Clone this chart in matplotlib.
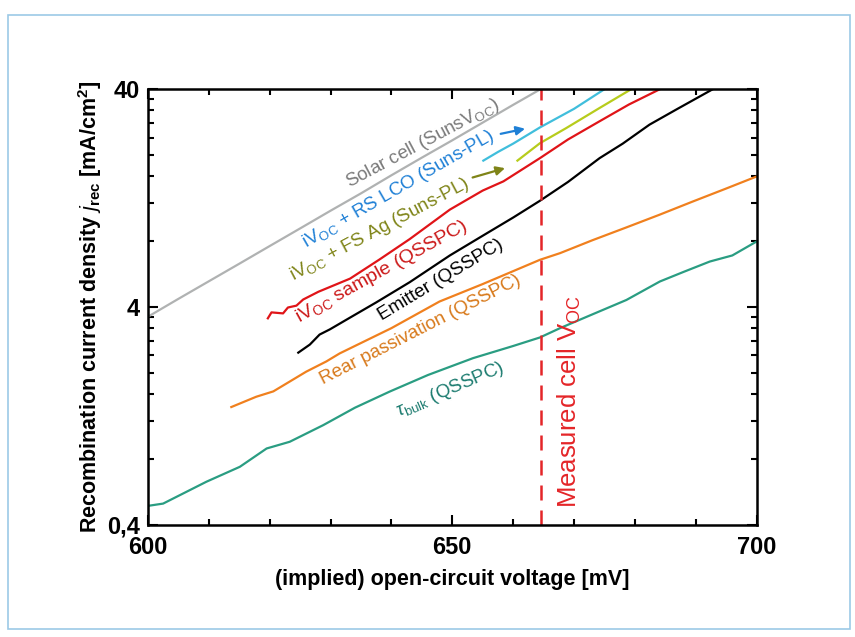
import matplotlib
matplotlib.use("Agg")
import matplotlib.pyplot as plt
from matplotlib.patches import Rectangle
from matplotlib.ticker import FixedLocator, NullFormatter

plt.rcParams['font.family'] = ['Liberation Sans', 'DejaVu Sans']
plt.rcParams['mathtext.fontset'] = 'custom'
plt.rcParams['mathtext.rm'] = 'Liberation Sans'
plt.rcParams['mathtext.it'] = 'Liberation Sans:italic'
plt.rcParams['mathtext.bf'] = 'Liberation Sans:bold'

# data (voltage in mV, current density in mA/cm2)
v_cell = [600, 605, 610, 615, 620, 625, 630, 635, 640, 645, 650, 655, 660, 664.5]
j_cell = [3.61, 4.36, 5.25, 6.32, 7.62, 9.18, 11.07, 13.3, 16.1, 19.4, 23.3, 28.1, 33.9, 40]

v_lco = [655.1, 657.5, 660, 664.4, 670, 675]
j_lco = [18.8, 20.6, 22.5, 26.7, 32.5, 40]

v_ag = [660.7, 664.4, 668.7, 674.2, 679.4]
j_ag = [18.8, 22.6, 26.5, 32.8, 40]

v_sample = [619.7, 620.3, 622.2, 623.0, 624.4, 625.5, 628, 633.2, 638, 643, 649.6,
            655, 658.4, 664.4, 669, 674.2, 679, 684.1]
j_sample = [3.55, 3.78, 3.74, 3.98, 4.06, 4.33, 4.7, 5.4, 6.6, 8.2, 11.2,
            13.7, 15.1, 19.3, 23.5, 28.5, 34, 40]

v_emitter = [624.7, 626.6, 628.2, 629.9, 633, 637.5, 643, 649.6, 655, 660, 664.4,
             669, 674.2, 678, 682.4, 687, 692.8]
j_emitter = [2.47, 2.69, 2.99, 3.16, 3.55, 4.2, 5.2, 6.9, 8.5, 10.3, 12.3,
             15.0, 19.3, 22.5, 27.5, 32.5, 40]

v_rear = [613.7, 617.8, 620.6, 623.3, 626.0, 629.3, 631.5, 640, 647.9, 655, 664.4,
          667.7, 673, 678.6, 684, 689.5, 695, 700]
j_rear = [1.39, 1.55, 1.64, 1.82, 2.02, 2.25, 2.45, 3.2, 4.24, 5.1, 6.59,
          7.07, 8.1, 9.28, 10.6, 12.2, 14.0, 15.9]

v_bulk = [600, 602.5, 609.6, 615.1, 619.5, 623.3, 628.8, 634, 639.7, 646, 653.4,
          660, 664.4, 667.7, 673, 678.6, 684.1, 688, 692.3, 696, 700]
j_bulk = [0.489, 0.501, 0.631, 0.739, 0.897, 0.963, 1.148, 1.38, 1.636, 1.95, 2.33,
          2.65, 2.90, 3.20, 3.7, 4.31, 5.24, 5.8, 6.47, 6.9, 8.0]

v_measured = 664.5

fig = plt.figure(figsize=(8.55, 6.37), dpi=100)
fig.patches.append(Rectangle((0.009, 0.012), 0.985, 0.965, transform=fig.transFigure,
                             fill=False, edgecolor='#9cc9e6', linewidth=1.2))
ax = fig.add_axes([0.173, 0.176, 0.712, 0.684])

lw = 1.6
ax.plot(v_bulk, j_bulk, color='#2a9d82', lw=lw)
ax.plot(v_rear, j_rear, color='#f0801e', lw=lw)
ax.plot(v_emitter, j_emitter, color='black', lw=lw)
ax.plot(v_sample, j_sample, color='#e01418', lw=lw)
ax.plot(v_ag, j_ag, color='#b7cc1c', lw=lw)
ax.plot(v_lco, j_lco, color='#40bedc', lw=lw)
ax.plot(v_cell, j_cell, color='#b0b2b2', lw=lw)
ax.axvline(v_measured, color='#e42528', lw=1.8, ls=(0, (6, 4)))

ax.set_yscale('log')
ax.set_xlim(600, 700)
ax.set_ylim(0.4, 40)
ax.xaxis.set_major_locator(FixedLocator([600, 650, 700]))
ax.xaxis.set_minor_locator(FixedLocator(list(range(610, 700, 10))))
ax.yaxis.set_major_locator(FixedLocator([0.4, 4, 40]))
ax.yaxis.set_minor_locator(FixedLocator([0.4 * k for k in range(2, 10)] + [4 * k for k in range(2, 10)]))
ax.yaxis.set_minor_formatter(NullFormatter())
ax.set_yticklabels(['0,4', '4', '40'])
ax.tick_params(which='both', direction='in', top=True, right=True, width=1.5,
               labelsize=17)
ax.tick_params(which='major', length=7)
ax.tick_params(axis='x', which='major', pad=8)
ax.tick_params(axis='y', which='major', pad=6)
ax.tick_params(which='minor', length=4)
for lab in ax.get_xticklabels() + ax.get_yticklabels():
    lab.set_fontweight('bold')
for s in ax.spines.values():
    s.set_linewidth(1.8)

ax.set_xlabel('(implied) open-circuit voltage [mV]', fontsize=15.5, fontweight='bold', labelpad=7)
ax.set_ylabel(r'Recombination current density $\mathit{j}_{\mathbf{rec}}$ [mA/cm$^\mathbf{2}$]',
              fontsize=15.5, fontweight='bold', labelpad=2)

fs = 13.5
ax.text(645.2, 22.6, r'Solar cell (SunsV$_\mathregular{OC}$)', color='#7a7a7a', fontsize=fs,
        rotation=28, ha='center', va='center')
ax.text(641.2, 13.9, r'iV$_\mathregular{OC}$ + RS LCO (Suns-PL)', color='#1f80d6', fontsize=fs,
        rotation=30, ha='center', va='center')
ax.text(638.1, 9.1, r'iV$_\mathregular{OC}$ + FS Ag (Suns-PL)', color='#7f8418', fontsize=fs,
        rotation=28, ha='center', va='center')
ax.text(638.5, 5.78, r'iV$_\mathregular{OC}$ sample (QSSPC)', color='#cc1a1a', fontsize=14,
        rotation=29, ha='center', va='center')
ax.text(648.1, 5.3, 'Emitter (QSSPC)', color='black', fontsize=fs,
        rotation=31, ha='center', va='center')
ax.text(644.7, 3.15, 'Rear passivation (QSSPC)', color='#d87a1c', fontsize=fs,
        rotation=27, ha='center', va='center')
ax.text(649.6, 1.67, r'$\tau_\mathregular{bulk}$ (QSSPC)', color='#1d7c70', fontsize=fs,
        rotation=23, ha='center', va='center')
ax.text(669.3, 1.47, r'Measured cell V$_\mathregular{OC}$', color='#e42528', fontsize=18.5,
        rotation=90, ha='center', va='center')

ax.annotate('', xy=(662.4, 26.5), xytext=(657.5, 24.8),
            arrowprops=dict(arrowstyle='-|>', color='#1f80d6', lw=1.6, mutation_scale=13))
ax.annotate('', xy=(659.1, 17.5), xytext=(652.9, 15.6),
            arrowprops=dict(arrowstyle='-|>', color='#7f8418', lw=1.6, mutation_scale=13))

fig.savefig('out.png', dpi=100)
